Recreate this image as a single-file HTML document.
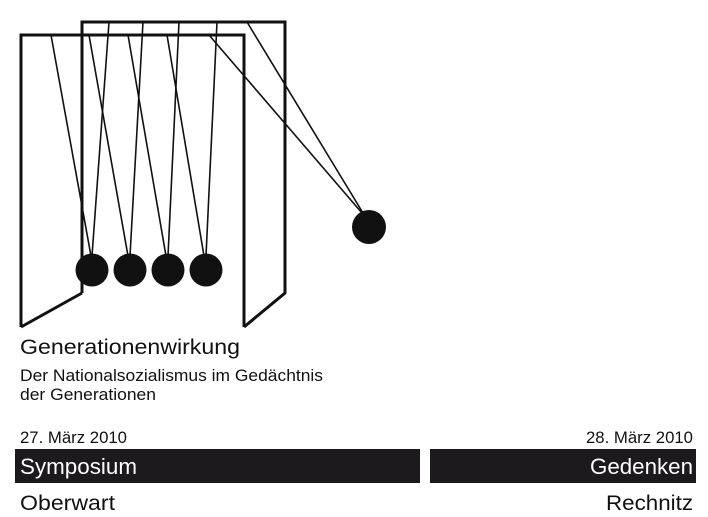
<!DOCTYPE html>
<html><head><meta charset="utf-8"><style>
html,body{margin:0;padding:0;background:#fff;}
svg{display:block}
text{font-family:"Liberation Sans",sans-serif;}
</style></head><body>
<svg width="708" height="517" viewBox="0 0 708 517" xmlns="http://www.w3.org/2000/svg">
<g fill="none" stroke="#111" stroke-width="3" stroke-linejoin="miter">
<polyline points="82,293 82,22 285,22 285,293 244,327"/>
<polyline points="21,327 21,35 244,35 244,327"/>
<line x1="21" y1="327" x2="82" y2="293"/>
</g>
<g stroke="#111" stroke-width="1.6">
<line x1="51" y1="35" x2="91" y2="256"/><line x1="109" y1="22" x2="92" y2="256"/>
<line x1="89" y1="35" x2="128" y2="256"/><line x1="143" y1="22" x2="130" y2="256"/>
<line x1="128" y1="35" x2="166" y2="256"/><line x1="179" y1="22" x2="168" y2="256"/>
<line x1="167" y1="35" x2="204" y2="256"/><line x1="217" y1="22" x2="206" y2="256"/>
<line x1="209" y1="35" x2="362" y2="213"/><line x1="247" y1="22" x2="363" y2="213"/>
</g>
<g fill="#111">
<circle cx="92" cy="270" r="16.5"/><circle cx="130" cy="270" r="16.5"/>
<circle cx="168" cy="270" r="16.5"/><circle cx="206" cy="270" r="16.5"/>
<circle cx="369" cy="227" r="17"/>
</g>
<text x="20" y="354" font-size="21" textLength="220" lengthAdjust="spacingAndGlyphs" fill="#111">Generationenwirkung</text>
<text x="20" y="381" font-size="17" textLength="303" lengthAdjust="spacingAndGlyphs" fill="#111">Der Nationalsozialismus im Gedächtnis</text>
<text x="20" y="400" font-size="17" textLength="136" lengthAdjust="spacingAndGlyphs" fill="#111">der Generationen</text>
<text x="20" y="443" font-size="17" textLength="107" lengthAdjust="spacingAndGlyphs" fill="#111">27. März 2010</text>
<text x="693" y="443" font-size="17" text-anchor="end" textLength="107" lengthAdjust="spacingAndGlyphs" fill="#111">28. März 2010</text>
<rect x="15" y="449" width="405" height="34" fill="#1c1a1d"/>
<rect x="430" y="449" width="266" height="34" fill="#1c1a1d"/>
<text x="20" y="474" font-size="22" textLength="117" lengthAdjust="spacingAndGlyphs" fill="#fff">Symposium</text>
<text x="693" y="474" font-size="22" text-anchor="end" textLength="103" lengthAdjust="spacingAndGlyphs" fill="#fff">Gedenken</text>
<text x="20" y="510" font-size="21" textLength="95" lengthAdjust="spacingAndGlyphs" fill="#111">Oberwart</text>
<text x="693" y="510" font-size="21" text-anchor="end" textLength="87" lengthAdjust="spacingAndGlyphs" fill="#111">Rechnitz</text>
</svg>
</body></html>
